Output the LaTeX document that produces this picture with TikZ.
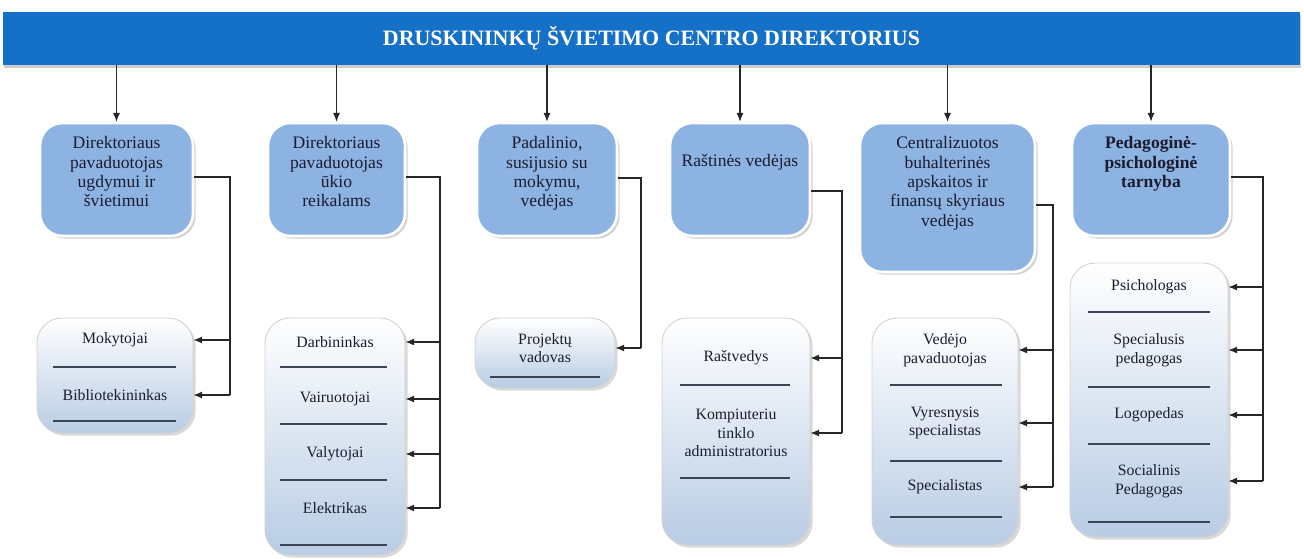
\documentclass[tikz,border=0pt]{standalone}
\usepackage{fontspec}
\setmainfont{Liberation Serif}
\usetikzlibrary{arrows.meta,positioning,shadows}
\definecolor{bannerblue}{HTML}{1570C8}
\definecolor{boxblue}{HTML}{8DB3E2}
\definecolor{lowblue}{HTML}{B8CCE4}
\definecolor{divgray}{HTML}{3A4656}
\definecolor{txt}{HTML}{1C1C30}

\begin{document}
\begin{tikzpicture}[
    x=0.02cm, y=-0.02cm,
    >={Latex[length=5pt,width=4pt]},
    banner/.style={fill=bannerblue, minimum width=25.94cm, minimum height=1.06cm, text=white,
        font=\bfseries\fontsize{12.5}{14}\selectfont,
        drop shadow={shadow xshift=0.5pt, shadow yshift=-1.5pt, opacity=0.4}},
    dirbox/.style={draw=white, line width=1.5pt, fill=boxblue, rounded corners=0.45cm,
        drop shadow={shadow xshift=1.5pt, shadow yshift=-1.5pt, opacity=0.35}},
    dirtext/.style={align=center, text=txt, font=\fontsize{10}{11}\selectfont},
    staffbox/.style={draw=gray!35, line width=0.5pt, top color=white, bottom color=lowblue,
        rounded corners=0.5cm, drop shadow={shadow xshift=1.5pt, shadow yshift=-1.5pt, opacity=0.3}},
    staff/.style={align=center, text=txt, font=\fontsize{9}{10.5}\selectfont},
    divider/.style={draw=divgray, line width=1pt},
    link/.style={draw=black!85, line width=0.6pt}
]
\useasboundingbox (0,0) rectangle (1304,558);

% title
\node[banner] (head) at (651.5,38.5) {DRUSKININKŲ ŠVIETIMO CENTRO DIREKTORIUS};

% first level
\node[dirbox, minimum width=3.06cm, minimum height=2.26cm] (dir1) at (116.5,179.5) {};
\node[dirbox, minimum width=2.74cm, minimum height=2.26cm] (dir2) at (336.5,179.5) {};
\node[dirbox, minimum width=2.8cm, minimum height=2.26cm] (dir3) at (547,179.5) {};
\node[dirbox, minimum width=2.8cm, minimum height=2.26cm] (dir4) at (740,179.5) {};
\node[dirbox, minimum width=3.5cm, minimum height=2.98cm] (dir5) at (947.5,197.5) {};
\node[dirbox, minimum width=3.16cm, minimum height=2.26cm] (dir6) at (1151,179.5) {};

\node[dirtext, below=5pt of dir1.north] (t1) {Direktoriaus\\pavaduotojas\\ugdymui ir\\švietimui};
\node[dirtext, below=5pt of dir2.north] (t2) {Direktoriaus\\pavaduotojas\\ūkio\\reikalams};
\node[dirtext, below=5pt of dir3.north] (t3) {Padalinio,\\susijusio su\\mokymu,\\vedėjas};
\node[dirtext, below=15pt of dir4.north] (t4) {Raštinės vedėjas};
\node[dirtext, below=5pt of dir5.north] (t5) {Centralizuotos\\buhalterinės\\apskaitos ir\\finansų skyriaus\\vedėjas};
\node[dirtext, below=5pt of dir6.north, font=\bfseries\fontsize{10}{11}\selectfont] (t6) {Pedagoginė-\\psichologinė\\tarnyba};

\foreach \d in {dir1,dir2,dir3,dir4,dir5,dir6}
    \draw[link,->] (head.south -| \d.north) -- (\d.north);

% second level
\node[staffbox, minimum width=3.12cm, minimum height=2.3cm] (low1) at (115,375.5) {};
\node[staffbox, minimum width=2.8cm, minimum height=4.74cm] (low2) at (335,436.5) {};
\node[staffbox, minimum width=2.8cm, minimum height=1.4cm] (low3) at (545,353) {};
\node[staffbox, minimum width=2.96cm, minimum height=4.54cm] (low4) at (736,431.5) {};
\node[staffbox, minimum width=2.92cm, minimum height=4.54cm] (low5) at (945,431.5) {};
\node[staffbox, minimum width=3.16cm, minimum height=5.48cm] (low6) at (1149,400) {};

\node[staff] (mok) at (115,340) {Mokytojai};
\node[staff] (bib) at (115,395) {Bibliotekininkas};
\draw[divider] (53,367) -- (176,367);
\draw[divider] (53,421) -- (176,421);

\node[staff] (darb) at (335,342) {Darbininkas};
\node[staff] (vair) at (335,399) {Vairuotojai};
\node[staff] (valy) at (335,454) {Valytojai};
\node[staff] (elek) at (335,508) {Elektrikas};
\foreach \y in {367,424,480,545}
    \draw[divider] (280,\y) -- (387,\y);

\node[staff] (proj) at (545,348) {Projektų\\vadovas};
\draw[divider] (490,377) -- (600,377);

\node[staff] (rast) at (736,358) {Raštvedys};
\node[staff] (komp) at (736,433) {Kompiuteriu\\tinklo\\administratorius};
\draw[divider] (680,385) -- (790,385);
\draw[divider] (680,478) -- (790,478);

\node[staff] (ved) at (945,350) {Vedėjo\\pavaduotojas};
\node[staff] (vyr) at (945,423) {Vyresnysis\\specialistas};
\node[staff] (spec) at (945,487) {Specialistas};
\foreach \y in {385,461,517}
    \draw[divider] (890,\y) -- (1002,\y);

\node[staff] (psi) at (1149,287) {Psichologas};
\node[staff] (sped) at (1149,350) {Specialusis\\pedagogas};
\node[staff] (logo) at (1149,415) {Logopedas};
\node[staff] (soc) at (1149,481) {Socialinis\\Pedagogas};
\foreach \y in {312,387,444,522}
    \draw[divider] (1088,\y) -- (1210,\y);

% connectors to staff
\coordinate (j1) at (230,177);
\coordinate (j2) at (440,177);
\coordinate (j3) at (641,178);
\coordinate (j4) at (842,191);
\coordinate (j5) at (1053,205);
\coordinate (j6) at (1263,177);

\draw[link] (dir1.east |- j1) -- (j1) -- (j1 |- bib);
\foreach \s in {mok,bib}
    \draw[link,->] (j1 |- \s) -- (low1.east |- \s);

\draw[link] (dir2.east |- j2) -- (j2) -- (j2 |- elek);
\foreach \s in {darb,vair,valy,elek}
    \draw[link,->] (j2 |- \s) -- (low2.east |- \s);

\draw[link] (dir3.east |- j3) -- (j3) -- (j3 |- proj);
\draw[link,->] (j3 |- proj) -- (low3.east |- proj);

\draw[link] (dir4.east |- j4) -- (j4) -- (j4 |- komp);
\foreach \s in {rast,komp}
    \draw[link,->] (j4 |- \s) -- (low4.east |- \s);

\draw[link] (dir5.east |- j5) -- (j5) -- (j5 |- spec);
\foreach \s in {ved,vyr,spec}
    \draw[link,->] (j5 |- \s) -- (low5.east |- \s);

\draw[link] (dir6.east |- j6) -- (j6) -- (j6 |- soc);
\foreach \s in {psi,sped,logo,soc}
    \draw[link,->] (j6 |- \s) -- (low6.east |- \s);
\end{tikzpicture}
\end{document}
